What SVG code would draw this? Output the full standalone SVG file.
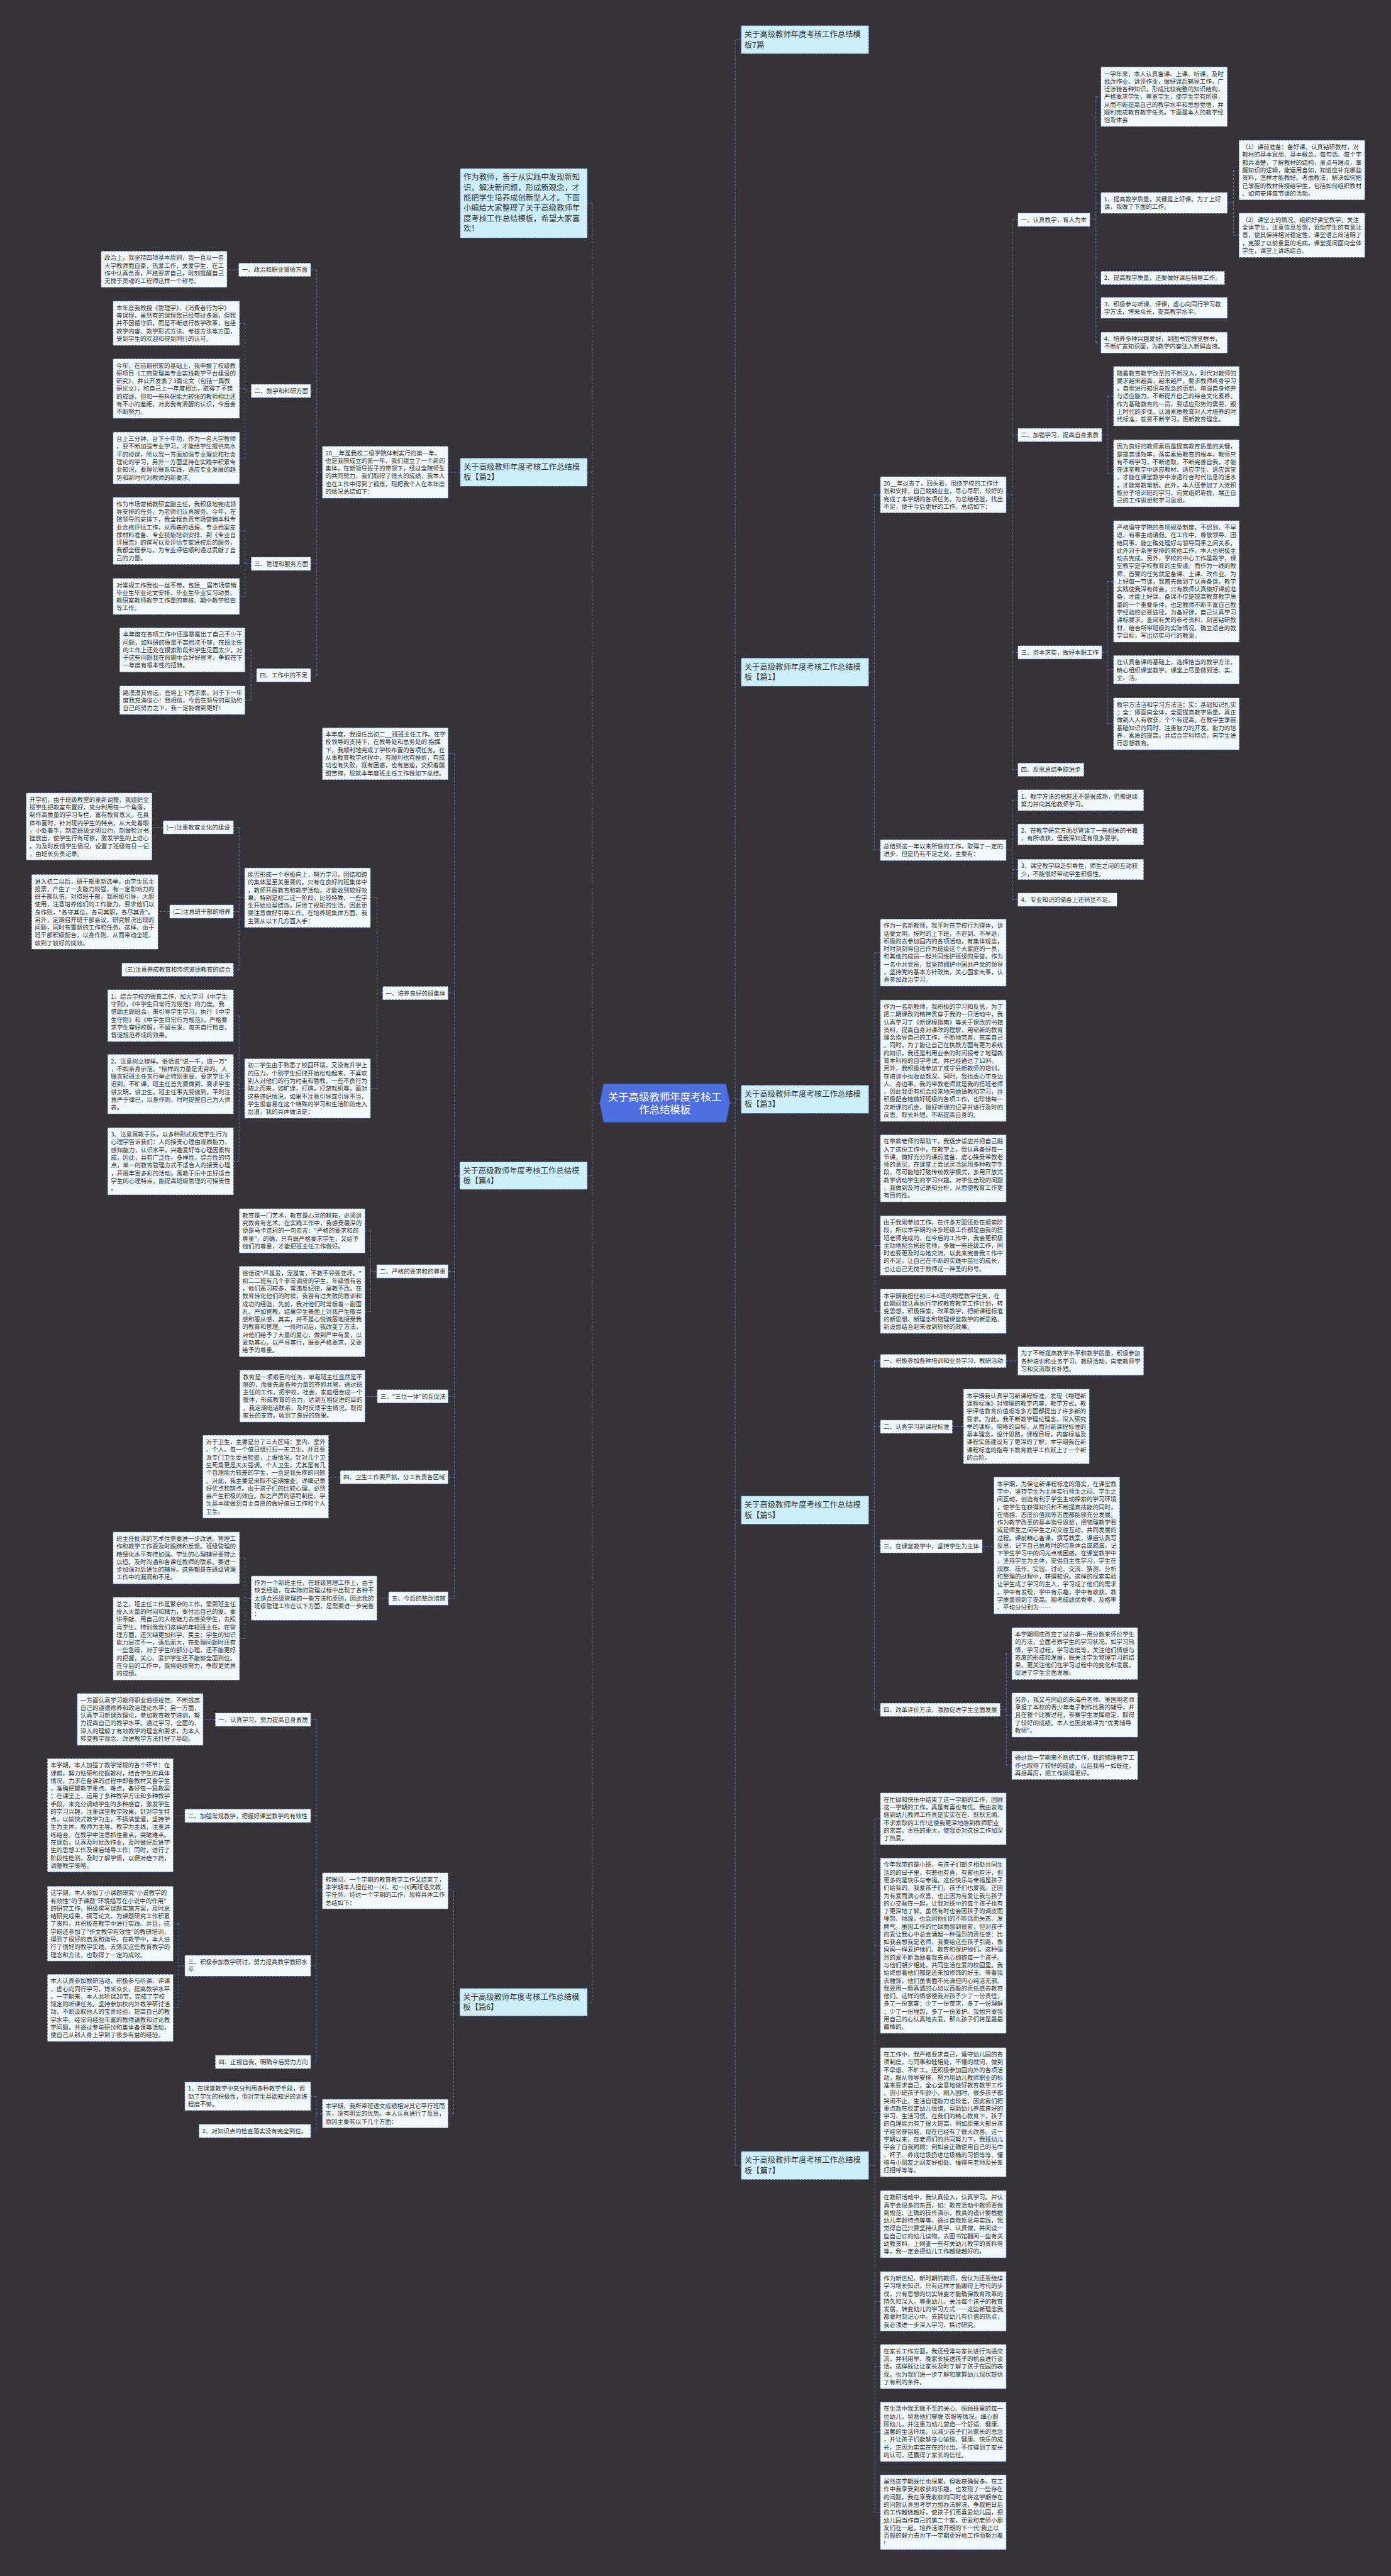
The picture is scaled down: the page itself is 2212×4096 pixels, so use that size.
<svg xmlns="http://www.w3.org/2000/svg" width="2212" height="4096" viewBox="0 0 2212 4096">
<style>
.b{fill:#f1f9fc;stroke:#2f3d78;stroke-width:1;stroke-dasharray:4 2}
.h{fill:#cdeefb;stroke:#3b4f8c;stroke-width:1;stroke-dasharray:4 2}
.t{font-family:"Noto Sans CJK SC","Noto Sans",sans-serif;font-size:11px;fill:#333}
.ht{font-family:"Noto Sans CJK SC","Noto Sans",sans-serif;font-size:14.3px;fill:#333}
.ct{font-family:"Noto Sans CJK SC","Noto Sans",sans-serif;font-size:19px;fill:#fff;text-anchor:middle}
.c{fill:none;stroke:#5b72cf;stroke-width:1.2;stroke-dasharray:4 3}
</style>
<rect width="2212" height="4096" fill="#353337"/>
<g transform="scale(0.86406)">
<g id="connectors" class="c">
<path d="M1343,2030H1353M1353,73V3985M1353,73H1364M1353,1237H1364M1353,2023H1364M1353,2779H1364M1353,3985H1364"/>
<path d="M1104,2030H1090M1090,374V3684.5M1090,374H1081M1090,869H1081M1090,2164H1081M1090,3684.5H1081"/>
<path d="M1599,1237H1609M1609,910.5V1564M1609,910.5H1620M1609,1564H1620"/>
<path d="M1852,910.5H1863M1863,404.5V1416.5M1863,404.5H1873M1863,800.5H1873M1863,1200.5H1873M1863,1416.5H1873"/>
<path d="M2006,404.5H2017M2017,178V630.5M2017,178H2026M2017,373.5H2026M2017,511.5H2026M2017,566.5H2026M2017,630.5H2026"/>
<path d="M2259,373.5H2270M2270,313V433M2270,313H2280M2270,433H2280"/>
<path d="M2028,800.5H2038M2038,729V871M2038,729H2049M2038,871H2049"/>
<path d="M2028,1200.5H2038M2038,1070V1332M2038,1070H2049M2038,1232.5H2049M2038,1332H2049"/>
<path d="M1852,1564H1863M1863,1472.5V1655.5M1863,1472.5H1873M1863,1535.5H1873M1863,1600H1873M1863,1655.5H1873"/>
<path d="M1599,2023H1610M1610,1753V2413M1610,1753H1620M1610,1952H1620M1610,2150H1620M1610,2292H1620M1610,2413H1620"/>
<path d="M1599,2779H1609M1609,2504.5V3146.5M1609,2504.5H1620M1609,2625.5H1620M1609,2845.5H1620M1609,3146.5H1620"/>
<path d="M1852,2504.5H1873M1753,2625.5H1773M1808,2845.5H1829"/>
<path d="M1841,3146.5H1852M1852,3043V3248.5M1852,3043H1862M1852,3156H1862M1852,3248.5H1862"/>
<path d="M1599,3985H1610M1610,3347V4623M1610,3347H1620M1610,3580.5H1620M1610,3887H1620M1610,4093H1620M1610,4235H1620M1610,4355H1620M1610,4475H1620M1610,4623H1620"/>
<path d="M847,869H825M593,869H583M583,496.5V1242.5M583,496.5H572M583,719.5H572M583,1037.5H572M583,1242.5H572"/>
<path d="M439,496.5H418"/>
<path d="M462,719.5H451M451,595V843M451,595H441M451,715H441M451,843H441"/>
<path d="M462,1037.5H451M451,977V1097.5M451,977H441M451,1097.5H441"/>
<path d="M472,1242.5H462M462,1196V1288.5M462,1196H451M462,1288.5H451"/>
<path d="M846,2164H836.5M836.5,1387V2941M836.5,1387H825M836.5,1827.5H825M836.5,2339.5H825M836.5,2569.5H825M836.5,2718.5H825M836.5,2941H825"/>
<path d="M704,1827.5H694M694,1652V2003M694,1652H682M694,2003H682"/>
<path d="M450,1652H440M440,1522.5V1784.5M440,1522.5H430M440,1677.5H430M440,1784.5H430"/>
<path d="M300,1522.5H280M312,1677.5H291"/>
<path d="M450,2003H440M440,1869V2137M440,1869H430M440,1995H430M440,2137H430"/>
<path d="M693,2339.5H682M682,2265V2414M682,2265H672M682,2414H672"/>
<path d="M694,2569.5H672M626,2718.5H605M715,2941H694"/>
<path d="M462,2941H451M451,2867V3015.5M451,2867H441M451,3015.5H441"/>
<path d="M846,3684.5H835M835,3479.5V3889.5M835,3479.5H825M835,3889.5H825"/>
<path d="M593,3479.5H582M582,3164.5V3794.5M582,3164.5H572M582,3341.5H572M582,3617.5H572M582,3794.5H572"/>
<path d="M396,3164.5H374M340,3341.5H319"/>
<path d="M340,3617.5H329M329,3540V3695M329,3540H319M329,3695H319"/>
<path d="M593,3889.5H582M582,3857.5V3921.5M582,3857.5H572M582,3921.5H572"/>
</g>

<g id="center">
<polygon points="1111,1995 1336,1995 1343,2030 1336,2065 1111,2065 1104,2030" fill="#4e6fdf" stroke="#3c5bc8" stroke-width="1"/>
<text class="ct" x="1223.5" y="2025">关于高级教师年度考核工</text>
<text class="ct" x="1223.5" y="2049">作总结模板</text>
</g>

<g id="title7"><rect class="h" x="1364" y="47" width="235" height="52"/><text class="ht" x="1370" y="68.5"><tspan x="1370" dy="0">关于高级教师年度考核工作总结模</tspan><tspan x="1370" dy="18.9">板7篇</tspan></text></g>

<g id="p1"><rect class="h" x="1364" y="1211" width="235" height="52"/><text class="ht" x="1370" y="1232.5"><tspan x="1370" dy="0">关于高级教师年度考核工作总结模</tspan><tspan x="1370" dy="18.9">板【篇1】</tspan></text></g>
<g id="p1-intro"><rect class="b" x="1620" y="877" width="232" height="67"/><text class="t" x="1626" y="893.5"><tspan x="1626" dy="0">20__年过去了。回头看，围绕学校的工作计</tspan><tspan x="1626" dy="14.2">划和安排，自己兢兢业业，尽心尽职，较好的</tspan><tspan x="1626" dy="14.2">完成了本学期的各项任务。为总结经验，找出</tspan><tspan x="1626" dy="14.2">不足，便于今后更好的工作。总结如下：</tspan></text></g>
<g id="p1-sum"><rect class="b" x="1620" y="1545" width="232" height="39"/><text class="t" x="1626" y="1561.5"><tspan x="1626" dy="0">总结到这一年以来所做的工作，取得了一定的</tspan><tspan x="1626" dy="14.2">进步，但是仍有不足之处，主要有：</tspan></text></g>
<g id="p1-s1"><rect class="b" x="1873" y="392" width="133" height="25"/><text class="t" x="1879" y="408.5">一、认真教学，育人为本</text></g>
<g id="p1-s2"><rect class="b" x="1873" y="788" width="155" height="25"/><text class="t" x="1879" y="804.5">二、加强学习，提高自身素质</text></g>
<g id="p1-s3"><rect class="b" x="1873" y="1188" width="155" height="25"/><text class="t" x="1879" y="1204.5">三、务本求实，做好本职工作</text></g>
<g id="p1-s4"><rect class="b" x="1873" y="1404" width="122" height="25"/><text class="t" x="1879" y="1420.5">四、反思总结争取进步</text></g>
<g id="p1-c1"><rect class="b" x="2026" y="123" width="233" height="110"/><text class="t" x="2032" y="139.5"><tspan x="2032" dy="0">一学年来，本人认真备课、上课、听课，及时</tspan><tspan x="2032" dy="14.2">批改作业、讲评作业，做好课后辅导工作，广</tspan><tspan x="2032" dy="14.2">泛涉猎各种知识，形成比较完整的知识结构，</tspan><tspan x="2032" dy="14.2">严格要求学生，尊重学生，使学生学有所得，</tspan><tspan x="2032" dy="14.2">从而不断提高自己的教学水平和思想觉悟，并</tspan><tspan x="2032" dy="14.2">顺利完成教育教学任务。下面是本人的教学经</tspan><tspan x="2032" dy="14.2">验及体会</tspan></text></g>
<g id="p1-c2"><rect class="b" x="2026" y="354" width="233" height="39"/><text class="t" x="2032" y="370.5"><tspan x="2032" dy="0">1、提高教学质量，关键是上好课。为了上好</tspan><tspan x="2032" dy="14.2">课，我做了下面的工作。</tspan></text></g>
<g id="p1-c3"><rect class="b" x="2026" y="499" width="228" height="25"/><text class="t" x="2032" y="515.5">2、提高教学质量，还要做好课后辅导工作。</text></g>
<g id="p1-c4"><rect class="b" x="2026" y="547" width="233" height="39"/><text class="t" x="2032" y="563.5"><tspan x="2032" dy="0">3、积极参与听课、评课，虚心向同行学习教</tspan><tspan x="2032" dy="14.2">学方法，博采众长，提高教学水平。</tspan></text></g>
<g id="p1-c5"><rect class="b" x="2026" y="611" width="233" height="39"/><text class="t" x="2032" y="627.5"><tspan x="2032" dy="0">4、培养多种兴趣爱好，到图书馆博览群书，</tspan><tspan x="2032" dy="14.2">不断扩宽知识面，为教学内容注入新鲜血液。</tspan></text></g>
<g id="p1-d1"><rect class="b" x="2280" y="258" width="232" height="110"/><text class="t" x="2286" y="274.5"><tspan x="2286" dy="0">（1）课前准备：备好课。认真钻研教材，对</tspan><tspan x="2286" dy="14.2">教材的基本思想、基本概念，每句话、每个字</tspan><tspan x="2286" dy="14.2">都弄清楚，了解教材的结构，重点与难点，掌</tspan><tspan x="2286" dy="14.2">握知识的逻辑，能运用自如，知道应补充哪些</tspan><tspan x="2286" dy="14.2">资料，怎样才能教好。考虑教法，解决如何把</tspan><tspan x="2286" dy="14.2">已掌握的教材传授给学生，包括如何组织教材</tspan><tspan x="2286" dy="14.2">、如何安排每节课的活动。</tspan></text></g>
<g id="p1-d2"><rect class="b" x="2280" y="392" width="232" height="82"/><text class="t" x="2286" y="408.5"><tspan x="2286" dy="0">（2）课堂上的情况。组织好课堂教学，关注</tspan><tspan x="2286" dy="14.2">全体学生，注意信息反馈，调动学生的有意注</tspan><tspan x="2286" dy="14.2">意，使其保持相对稳定性，课堂语言简洁明了</tspan><tspan x="2286" dy="14.2">，克服了以前重复的毛病，课堂提问面向全体</tspan><tspan x="2286" dy="14.2">学生，课堂上讲练结合。</tspan></text></g>
<g id="p1-e1"><rect class="b" x="2049" y="674" width="232" height="110"/><text class="t" x="2055" y="690.5"><tspan x="2055" dy="0">随着教育教学改革的不断深入，时代对教师的</tspan><tspan x="2055" dy="14.2">要求越来越高，越来越严。要求教师终身学习</tspan><tspan x="2055" dy="14.2">，自觉进行知识与观念的更新。增强自身修养</tspan><tspan x="2055" dy="14.2">与适应能力，不断提升自己的综合文化素养。</tspan><tspan x="2055" dy="14.2">作为基础教育的一员，要适应形势的需要，跟</tspan><tspan x="2055" dy="14.2">上时代的步伐，认清素质教育对人才培养的时</tspan><tspan x="2055" dy="14.2">代标准，就要不断学习，更新教育理念。</tspan></text></g>
<g id="p1-e2"><rect class="b" x="2049" y="809" width="232" height="124"/><text class="t" x="2055" y="825.5"><tspan x="2055" dy="0">因为良好的教师素质是提高教育质量的关键，</tspan><tspan x="2055" dy="14.2">是提高课效率，落实素质教育的根本。教师只</tspan><tspan x="2055" dy="14.2">有不断学习，不断进取，不断完善自我，才能</tspan><tspan x="2055" dy="14.2">在课堂教学中适应教材、适应学生、适应课堂</tspan><tspan x="2055" dy="14.2">，才能在课堂教学中渗透符合时代信息的活水</tspan><tspan x="2055" dy="14.2">，才能常教常新。此外，本人还参加了入党积</tspan><tspan x="2055" dy="14.2">极分子培训班的学习，向党组织靠拢，端正自</tspan><tspan x="2055" dy="14.2">己的工作思想和学习思想。</tspan></text></g>
<g id="p1-f1"><rect class="b" x="2049" y="958" width="232" height="224"/><text class="t" x="2055" y="974.5"><tspan x="2055" dy="0">严格遵守学院的各项规章制度，不迟到、不早</tspan><tspan x="2055" dy="14.2">退、有事主动请假。在工作中，尊敬领导、团</tspan><tspan x="2055" dy="14.2">结同事，能正确处理好与领导同事之间关系，</tspan><tspan x="2055" dy="14.2">此外对于系里安排的其他工作，本人也积极主</tspan><tspan x="2055" dy="14.2">动去完成。另外，学校的中心工作是教学，课</tspan><tspan x="2055" dy="14.2">堂教学是学校教育的主渠道。而作为一线的教</tspan><tspan x="2055" dy="14.2">师，首要的任务就是备课、上课、改作业。为</tspan><tspan x="2055" dy="14.2">上好每一节课，我首先做到了认真备课，教学</tspan><tspan x="2055" dy="14.2">实践使我深有体会，只有教师认真做好课前准</tspan><tspan x="2055" dy="14.2">备，才能上好课，备课不仅是提高教育教学质</tspan><tspan x="2055" dy="14.2">量的一个重要条件，也是教师不断丰富自己教</tspan><tspan x="2055" dy="14.2">学经验的必要途径。为备好课，自己认真学习</tspan><tspan x="2055" dy="14.2">课标要求，查阅有关的参考资料，刻苦钻研教</tspan><tspan x="2055" dy="14.2">材，结合所带班级的实际情况，确立适合的教</tspan><tspan x="2055" dy="14.2">学目标，写出切实可行的教案。</tspan></text></g>
<g id="p1-f2"><rect class="b" x="2049" y="1206" width="232" height="53"/><text class="t" x="2055" y="1222.5"><tspan x="2055" dy="0">在认真备课的基础上，选择恰当的教学方法，</tspan><tspan x="2055" dy="14.2">精心组织课堂教学。课堂上尽量做到活、实、</tspan><tspan x="2055" dy="14.2">全、活。</tspan></text></g>
<g id="p1-f3"><rect class="b" x="2049" y="1284" width="232" height="96"/><text class="t" x="2055" y="1300.5"><tspan x="2055" dy="0">教学方法活和学习方法活；实：基础知识扎实</tspan><tspan x="2055" dy="14.2">；全：即面向全体，全面提高教学质量。真正</tspan><tspan x="2055" dy="14.2">做到人人有收获，个个有提高。在教学生掌握</tspan><tspan x="2055" dy="14.2">基础知识的同时，注重智力的开发，能力的培</tspan><tspan x="2055" dy="14.2">养，素质的提高。并结合学科特点，向学生进</tspan><tspan x="2055" dy="14.2">行思想教育。</tspan></text></g>
<g id="p1-g1"><rect class="b" x="1873" y="1453" width="232" height="39"/><text class="t" x="1879" y="1469.5"><tspan x="1879" dy="0">1、教学方法的把握还不是很成熟，仍需继续</tspan><tspan x="1879" dy="14.2">努力并向其他教师学习。</tspan></text></g>
<g id="p1-g2"><rect class="b" x="1873" y="1516" width="232" height="39"/><text class="t" x="1879" y="1532.5"><tspan x="1879" dy="0">2、在教学研究方面尽管读了一些相关的书籍</tspan><tspan x="1879" dy="14.2">，有所收获，但我深知还有很多要学。</tspan></text></g>
<g id="p1-g3"><rect class="b" x="1873" y="1581" width="232" height="38"/><text class="t" x="1879" y="1597.5"><tspan x="1879" dy="0">3、课堂教学缺乏引导性，师生之间的互动较</tspan><tspan x="1879" dy="14.2">少，不能很好带动学生积极性。</tspan></text></g>
<g id="p1-g4"><rect class="b" x="1873" y="1643" width="183" height="25"/><text class="t" x="1879" y="1659.5">4、专业知识的储备上还稍显不足。</text></g>

<g id="p3"><rect class="h" x="1364" y="1997" width="235" height="52"/><text class="ht" x="1370" y="2018.5"><tspan x="1370" dy="0">关于高级教师年度考核工作总结模</tspan><tspan x="1370" dy="18.9">板【篇3】</tspan></text></g>
<g id="p3-1"><rect class="b" x="1620" y="1691" width="232" height="124"/><text class="t" x="1626" y="1707.5"><tspan x="1626" dy="0">作为一名新教师，我平时在学校行为得体，讲</tspan><tspan x="1626" dy="14.2">话要文明，按时的上下班，不迟到、不早退，</tspan><tspan x="1626" dy="14.2">积极的去参加园内的各项活动，有集体观念，</tspan><tspan x="1626" dy="14.2">时时刻刻将自己作为班级这个大家庭的一员，</tspan><tspan x="1626" dy="14.2">和其他的成员一起共同维护班级的荣誉。作为</tspan><tspan x="1626" dy="14.2">一名中共党员，我坚持拥护中国共产党的领导</tspan><tspan x="1626" dy="14.2">，坚持党的基本方针政策，关心国家大事，认</tspan><tspan x="1626" dy="14.2">真参加政治学习。</tspan></text></g>
<g id="p3-2"><rect class="b" x="1620" y="1840" width="232" height="224"/><text class="t" x="1626" y="1856.5"><tspan x="1626" dy="0">作为一名新教师，我积极的学习和反思，为了</tspan><tspan x="1626" dy="14.2">把二期课改的精神贯穿于我的一日活动中，我</tspan><tspan x="1626" dy="14.2">认真学习了《新课程指南》等关于课改的书籍</tspan><tspan x="1626" dy="14.2">资料，提高自身对课改的理解，用崭新的教育</tspan><tspan x="1626" dy="14.2">理念指导自己的工作，不断地完善、充实自己</tspan><tspan x="1626" dy="14.2">。同时，为了能让自己在执教方面有更为系统</tspan><tspan x="1626" dy="14.2">的知识，我还是利用业余的时间报考了地理教</tspan><tspan x="1626" dy="14.2">育本科段的自学考试，并已经通过了12科。</tspan><tspan x="1626" dy="14.2">另外，我积极地参加了咸宁县新教师的培训，</tspan><tspan x="1626" dy="14.2">在培训中也收益颇深。同时，我也虚心学身边</tspan><tspan x="1626" dy="14.2">人、身边事，我的带教老师就是我的搭班老师</tspan><tspan x="1626" dy="14.2">，因此我更有机会经常地向她请教和学习，并</tspan><tspan x="1626" dy="14.2">积极配合她做好班级的各项工作，也珍惜每一</tspan><tspan x="1626" dy="14.2">次听课的机会，做好听课的记录并进行及时的</tspan><tspan x="1626" dy="14.2">反思，取长补短，不断提高自身的。</tspan></text></g>
<g id="p3-3"><rect class="b" x="1620" y="2088" width="232" height="124"/><text class="t" x="1626" y="2104.5"><tspan x="1626" dy="0">在带教老师的帮助下，我逐步适应并把自己融</tspan><tspan x="1626" dy="14.2">入了这份工作中，在教学上，我认真备好每一</tspan><tspan x="1626" dy="14.2">节课，做好充分的课前准备，虚心接受带教老</tspan><tspan x="1626" dy="14.2">师的意见，在课堂上尝试灵活运用多种教学手</tspan><tspan x="1626" dy="14.2">段，尽可能地打破传统教学模式，多用开放式</tspan><tspan x="1626" dy="14.2">教学调动学生的学习兴趣。对学生出现的问题</tspan><tspan x="1626" dy="14.2">，我做到及时记录和分析，从而使教育工作更</tspan><tspan x="1626" dy="14.2">有目的性。</tspan></text></g>
<g id="p3-4"><rect class="b" x="1620" y="2237" width="232" height="110"/><text class="t" x="1626" y="2253.5"><tspan x="1626" dy="0">由于我刚参加工作，在许多方面还处在摸索阶</tspan><tspan x="1626" dy="14.2">段，所以本学期的许多班级工作都是由我的搭</tspan><tspan x="1626" dy="14.2">班老师完成的，在今后的工作中，我会更积极</tspan><tspan x="1626" dy="14.2">主动地配合搭班老师，多做一些班级工作，同</tspan><tspan x="1626" dy="14.2">时也要更及时与她交流，以此来完善我工作中</tspan><tspan x="1626" dy="14.2">的不足，让自己在不断的实践中茁壮的成长，</tspan><tspan x="1626" dy="14.2">也让自己无愧于教师这一神圣的称号。</tspan></text></g>
<g id="p3-5"><rect class="b" x="1620" y="2372" width="232" height="82"/><text class="t" x="1626" y="2388.5"><tspan x="1626" dy="0">本学期我担任初三4-6班的物理教学任务，在</tspan><tspan x="1626" dy="14.2">此期间我认真执行学校教育教学工作计划，转</tspan><tspan x="1626" dy="14.2">变思想，积极探索，改革教学，把新课程标准</tspan><tspan x="1626" dy="14.2">的新思想、新理念和物理课堂教学的新思路、</tspan><tspan x="1626" dy="14.2">新设想结合起来收到较好的效果。</tspan></text></g>

<g id="p5"><rect class="h" x="1364" y="2753" width="235" height="52"/><text class="ht" x="1370" y="2774.5"><tspan x="1370" dy="0">关于高级教师年度考核工作总结模</tspan><tspan x="1370" dy="18.9">板【篇5】</tspan></text></g>
<g id="p5-s1"><rect class="b" x="1620" y="2492" width="232" height="25"/><text class="t" x="1626" y="2508.5">一、积极参加各种培训和业务学习、教研活动</text></g>
<g id="p5-c1"><rect class="b" x="1873" y="2478" width="232" height="53"/><text class="t" x="1879" y="2494.5"><tspan x="1879" dy="0">为了不断提高教学水平和教学质量，积极参加</tspan><tspan x="1879" dy="14.2">各种培训和业务学习、教研活动，向老教师学</tspan><tspan x="1879" dy="14.2">习和交流取长补短。</tspan></text></g>
<g id="p5-s2"><rect class="b" x="1620" y="2613" width="133" height="25"/><text class="t" x="1626" y="2629.5">二、认真学习新课程标准</text></g>
<g id="p5-c2"><rect class="b" x="1773" y="2556" width="232" height="138"/><text class="t" x="1779" y="2572.5"><tspan x="1779" dy="0">本学期我认真学习新课程标准，发现《物理新</tspan><tspan x="1779" dy="14.2">课程标准》对物理的教学内容，教学方式，教</tspan><tspan x="1779" dy="14.2">学评估教育价值观等多方面都提出了许多新的</tspan><tspan x="1779" dy="14.2">要求。为此，我不断教学理论理念，深入研究</tspan><tspan x="1779" dy="14.2">举的课标，明晰的目标，从而对新课程标准的</tspan><tspan x="1779" dy="14.2">基本理念，设计思路，课程目标，内容标准及</tspan><tspan x="1779" dy="14.2">课程实施建议有了更深的了解，本学期我在新</tspan><tspan x="1779" dy="14.2">课程标准的指导下教育教学工作跃上了一个新</tspan><tspan x="1779" dy="14.2">的台阶。</tspan></text></g>
<g id="p5-s3"><rect class="b" x="1620" y="2833" width="188" height="25"/><text class="t" x="1626" y="2849.5">三、在课堂教学中，坚持学生为主体</text></g>
<g id="p5-c3"><rect class="b" x="1829" y="2718" width="232" height="252"/><text class="t" x="1835" y="2734.5"><tspan x="1835" dy="0">本学期，为保证新课程标准的落实，在课堂教</tspan><tspan x="1835" dy="14.2">学中，坚持学生为主体实行师生之间、学生之</tspan><tspan x="1835" dy="14.2">间互动，创造有利于学生主动探索的学习环境</tspan><tspan x="1835" dy="14.2">，使学生在获得知识和不断提高技能的同时，</tspan><tspan x="1835" dy="14.2">在情感、态度价值观等方面都能够充分发展。</tspan><tspan x="1835" dy="14.2">作为教学改革的基本指导思想，把物理教学看</tspan><tspan x="1835" dy="14.2">成是师生之间学生之间交往互动，共同发展的</tspan><tspan x="1835" dy="14.2">过程。课前精心备课，撰写教案，课后认真写</tspan><tspan x="1835" dy="14.2">反思，记下自己执教时的切身体会或疏漏，记</tspan><tspan x="1835" dy="14.2">下学生学习中的闪光点或困惑。在课堂教学中</tspan><tspan x="1835" dy="14.2">，坚持学生为主体，提倡自主性学习，学生在</tspan><tspan x="1835" dy="14.2">观察、操作、实验、讨论、交流、猜测、分析</tspan><tspan x="1835" dy="14.2">和整理的过程中，获得知识。这样的探索实验</tspan><tspan x="1835" dy="14.2">让学生成了学习的主人，学习成了他们的需求</tspan><tspan x="1835" dy="14.2">，学中有发现，学中有乐趣，学中有收获，教</tspan><tspan x="1835" dy="14.2">学质量得到了提高。期考成绩优秀率、及格率</tspan><tspan x="1835" dy="14.2">、平均分分别为……</tspan></text></g>
<g id="p5-s4"><rect class="b" x="1620" y="3134" width="221" height="25"/><text class="t" x="1626" y="3150.5">四、改革评价方法，激励促进学生全面发展</text></g>
<g id="p5-j1"><rect class="b" x="1862" y="2995" width="232" height="96"/><text class="t" x="1868" y="3011.5"><tspan x="1868" dy="0">本学期彻底改变了过去单一用分数来评价学生</tspan><tspan x="1868" dy="14.2">的方法，全面考察学生的学习状况，如学习热</tspan><tspan x="1868" dy="14.2">情，学习过程，学习态度等，关注他们情感与</tspan><tspan x="1868" dy="14.2">态度的形成和发展，既关注学生物理学习的结</tspan><tspan x="1868" dy="14.2">果，更关注他们在学习过程中的变化和发展，</tspan><tspan x="1868" dy="14.2">促进了学生全面发展。</tspan></text></g>
<g id="p5-j2"><rect class="b" x="1862" y="3115" width="232" height="82"/><text class="t" x="1868" y="3131.5"><tspan x="1868" dy="0">另外，我又与同组的朱海舟老师、吴国明老师</tspan><tspan x="1868" dy="14.2">承担了本校的青少年电子制作比赛的辅导，并</tspan><tspan x="1868" dy="14.2">且在整个比赛过程，参赛学生发挥稳定，取得</tspan><tspan x="1868" dy="14.2">了较好的成绩。本人也因此被评为"优秀辅导</tspan><tspan x="1868" dy="14.2">教师"。</tspan></text></g>
<g id="p5-j3"><rect class="b" x="1862" y="3222" width="232" height="53"/><text class="t" x="1868" y="3238.5"><tspan x="1868" dy="0">通过我一学期来不断的工作，我的物理教学工</tspan><tspan x="1868" dy="14.2">作也取得了较好的成绩，以后我将一如既往，</tspan><tspan x="1868" dy="14.2">再接再厉，把工作搞得更好。</tspan></text></g>

<g id="p7"><rect class="h" x="1364" y="3959" width="235" height="52"/><text class="ht" x="1370" y="3980.5"><tspan x="1370" dy="0">关于高级教师年度考核工作总结模</tspan><tspan x="1370" dy="18.9">板【篇7】</tspan></text></g>
<g id="p7-1"><rect class="b" x="1620" y="3299" width="232" height="96"/><text class="t" x="1626" y="3315.5"><tspan x="1626" dy="0">在忙碌和快乐中结束了这一学期的工作，回顾</tspan><tspan x="1626" dy="14.2">这一学期的工作，真是有喜也有忧。我由衷地</tspan><tspan x="1626" dy="14.2">感到幼儿教师工作真是实实在在、默默无闻、</tspan><tspan x="1626" dy="14.2">不求索取的工作!这使我更深地感到教师职业</tspan><tspan x="1626" dy="14.2">的崇高，责任的重大，使我更对这份工作加深</tspan><tspan x="1626" dy="14.2">了热爱。</tspan></text></g>
<g id="p7-2"><rect class="b" x="1620" y="3419" width="232" height="323"/><text class="t" x="1626" y="3435.5"><tspan x="1626" dy="0">今年我带的是小班，与孩子们朝夕相处共同生</tspan><tspan x="1626" dy="14.2">活的的日子里，有悲也有喜，有累也有汗，但</tspan><tspan x="1626" dy="14.2">更多的是快乐与幸福。这份快乐与幸福是孩子</tspan><tspan x="1626" dy="14.2">们给我的，我爱孩子们，孩子们也爱我。正因</tspan><tspan x="1626" dy="14.2">为有爱而满心欢喜，也正因为有爱让我与孩子</tspan><tspan x="1626" dy="14.2">的心交融在一起，让我对班中的每个孩子也有</tspan><tspan x="1626" dy="14.2">了更深地了解。虽然有时也会因孩子的调皮而</tspan><tspan x="1626" dy="14.2">埋怨、烦躁，也会因他们的不听话而失态、发</tspan><tspan x="1626" dy="14.2">脾气。虽因工作的忙碌而感到很累，但对孩子</tspan><tspan x="1626" dy="14.2">的爱让我心中总会涌起一种强烈的责任感：比</tspan><tspan x="1626" dy="14.2">如我会想我是老师，我要给这些孩子引路，像</tspan><tspan x="1626" dy="14.2">妈妈一样爱护他们、教育和保护他们。这种强</tspan><tspan x="1626" dy="14.2">烈的爱不断激励着我去真心拥抱每一个孩子。</tspan><tspan x="1626" dy="14.2">与他们朝夕相处，共同生活在爱的校园里。我</tspan><tspan x="1626" dy="14.2">始终想着他们都是还未加修饰的好玉、等着我</tspan><tspan x="1626" dy="14.2">去雕饰，他们虽表面不光滑但内心纯洁无邪。</tspan><tspan x="1626" dy="14.2">我要用一颗真诚的心加以百般的责任感去教育</tspan><tspan x="1626" dy="14.2">他们。这样的情感使我对孩子少了一份责怪，</tspan><tspan x="1626" dy="14.2">多了一份宽容；少了一份苛求，多了一份理解</tspan><tspan x="1626" dy="14.2">；少了一份埋怨，多了一份爱护。我想只要我</tspan><tspan x="1626" dy="14.2">用自己的心认真地去爱，那么孩子们将是最最</tspan><tspan x="1626" dy="14.2">最棒的。</tspan></text></g>
<g id="p7-3"><rect class="b" x="1620" y="3768" width="232" height="238"/><text class="t" x="1626" y="3784.5"><tspan x="1626" dy="0">在工作中，我严格要求自己，遵守幼儿园的各</tspan><tspan x="1626" dy="14.2">项制度，与同事和睦相处，不懂的就问，做到</tspan><tspan x="1626" dy="14.2">不早退、不旷工。还积极参加园内外的各项活</tspan><tspan x="1626" dy="14.2">动，服从领导安排，努力用幼儿教师职业的标</tspan><tspan x="1626" dy="14.2">准来要求自己，全心全意地做好教育教学工作</tspan><tspan x="1626" dy="14.2">。因小班孩子年龄小，刚入园时，很多孩子都</tspan><tspan x="1626" dy="14.2">哭闹不止，生活自理能力也较差，因此我们把</tspan><tspan x="1626" dy="14.2">重点放在稳定幼儿情绪，帮助幼儿养成良好的</tspan><tspan x="1626" dy="14.2">学习、生活习惯。在我们的精心教育下，孩子</tspan><tspan x="1626" dy="14.2">的自理能力有了很大提高，例如原来大部分孩</tspan><tspan x="1626" dy="14.2">子经常穿错鞋，现在已经有了很大改善。这一</tspan><tspan x="1626" dy="14.2">学期以来，在老师们的共同努力下，我班幼儿</tspan><tspan x="1626" dy="14.2">学会了自我照顾：例如会正确使用自己的毛巾</tspan><tspan x="1626" dy="14.2">、杯子、养成垃圾扔进垃圾桶的习惯等等、懂</tspan><tspan x="1626" dy="14.2">得与小朋友之间友好相处、懂得与老师及长辈</tspan><tspan x="1626" dy="14.2">打招呼等等。</tspan></text></g>
<g id="p7-4"><rect class="b" x="1620" y="4031" width="232" height="124"/><text class="t" x="1626" y="4047.5"><tspan x="1626" dy="0">在教研活动中，我认真投入，认真学习。并认</tspan><tspan x="1626" dy="14.2">真学会很多的东西，如：教育活动中教师要做</tspan><tspan x="1626" dy="14.2">到规范、正确的操作演示，教具的设计要根据</tspan><tspan x="1626" dy="14.2">幼儿年龄特点等等。通过自我反思与实践，我</tspan><tspan x="1626" dy="14.2">觉得自己只要坚持认真学、认真做，并阅读一</tspan><tspan x="1626" dy="14.2">些自己订的幼儿读物，去图书馆翻阅一些有关</tspan><tspan x="1626" dy="14.2">幼教资料，上网查一些有关幼儿教学的资料等</tspan><tspan x="1626" dy="14.2">等，我一定会把幼儿工作越做越好的。</tspan></text></g>
<g id="p7-5"><rect class="b" x="1620" y="4180" width="232" height="110"/><text class="t" x="1626" y="4196.5"><tspan x="1626" dy="0">作为新世纪、新时期的教师，我认为还要继续</tspan><tspan x="1626" dy="14.2">学习增长知识，只有这样才能跟得上时代的步</tspan><tspan x="1626" dy="14.2">伐，只有思想的切实转变才能确保教育改革的</tspan><tspan x="1626" dy="14.2">持久和深入。尊重幼儿，关注每个孩子的教育</tspan><tspan x="1626" dy="14.2">发展，转变幼儿的学习方式……这些新理念我</tspan><tspan x="1626" dy="14.2">都要时刻记心中。去捕捉幼儿有价值的热点，</tspan><tspan x="1626" dy="14.2">我必须进一步深入学习、探讨研究。</tspan></text></g>
<g id="p7-6"><rect class="b" x="1620" y="4314" width="232" height="82"/><text class="t" x="1626" y="4330.5"><tspan x="1626" dy="0">在家长工作方面，我还经常与家长进行沟通交</tspan><tspan x="1626" dy="14.2">流，并利用早、晚家长接送孩子的机会进行谈</tspan><tspan x="1626" dy="14.2">话。这样既让让家长及时了解了孩子在园的表</tspan><tspan x="1626" dy="14.2">现，也为我们进一步了解和掌握幼儿现状提供</tspan><tspan x="1626" dy="14.2">了有利的条件。</tspan></text></g>
<g id="p7-7"><rect class="b" x="1620" y="4420" width="232" height="110"/><text class="t" x="1626" y="4436.5"><tspan x="1626" dy="0">在生活中我无微不至的关心、照顾班里的每一</tspan><tspan x="1626" dy="14.2">位幼儿，留意他们穿脱 衣服等情况，细心照</tspan><tspan x="1626" dy="14.2">顾幼儿，并注重为幼儿营造一个舒适、健康、</tspan><tspan x="1626" dy="14.2">温馨的生活环境，以减少孩子们对家长的思念</tspan><tspan x="1626" dy="14.2">，并让孩子们能够身心愉悦、健康、快乐的成</tspan><tspan x="1626" dy="14.2">长。正因为实实在在的付出，不仅得到了家长</tspan><tspan x="1626" dy="14.2">的认可，还赢得了家长的信任。</tspan></text></g>
<g id="p7-8"><rect class="b" x="1620" y="4554" width="232" height="138"/><text class="t" x="1626" y="4570.5"><tspan x="1626" dy="0">虽然这学期既忙也很累，但收获确很多。在工</tspan><tspan x="1626" dy="14.2">作中我享受到收获的乐趣，也发现了一些存在</tspan><tspan x="1626" dy="14.2">的问题。我在享受收获的同时也将这学期存在</tspan><tspan x="1626" dy="14.2">的问题认真思考尽力想办法解决，争取把日后</tspan><tspan x="1626" dy="14.2">的工作越做越好，使孩子们更喜爱幼儿园，把</tspan><tspan x="1626" dy="14.2">幼儿园当作自己的第二个家，更爱和老师小朋</tspan><tspan x="1626" dy="14.2">友们在一起，培养活泼开朗的下一代!我正以</tspan><tspan x="1626" dy="14.2">百般的毅力去为下一学期更好地工作而努力着</tspan><tspan x="1626" dy="14.2">!</tspan></text></g>

<g id="intro"><rect class="h" x="847" y="310" width="234" height="128"/><text class="ht" x="853" y="331.5"><tspan x="853" dy="0">作为教师，善于从实践中发现新知</tspan><tspan x="853" dy="18.9">识，解决新问题，形成新观念，才</tspan><tspan x="853" dy="18.9">能把学生培养成创新型人才。下面</tspan><tspan x="853" dy="18.9">小编给大家整理了关于高级教师年</tspan><tspan x="853" dy="18.9">度考核工作总结模板，希望大家喜</tspan><tspan x="853" dy="18.9">欢！</tspan></text></g>

<g id="p2"><rect class="h" x="847" y="843" width="234" height="52"/><text class="ht" x="853" y="864.5"><tspan x="853" dy="0">关于高级教师年度考核工作总结模</tspan><tspan x="853" dy="18.9">板【篇2】</tspan></text></g>
<g id="p2-intro"><rect class="b" x="593" y="821" width="232" height="96"/><text class="t" x="599" y="837.5"><tspan x="599" dy="0">20__年是我校二级学院体制实行的第一年，</tspan><tspan x="599" dy="14.2">也是我院成立的第一年，我们建立了一个新的</tspan><tspan x="599" dy="14.2">集体，在新领导班子的带领下，经过全院师生</tspan><tspan x="599" dy="14.2">的共同努力，我们取得了很大的成绩，我本人</tspan><tspan x="599" dy="14.2">也在工作中得到了锻炼，现把我个人在本年度</tspan><tspan x="599" dy="14.2">的情况总结如下：</tspan></text></g>
<g id="p2-s1"><rect class="b" x="439" y="484" width="133" height="25"/><text class="t" x="445" y="500.5">一、政治和职业道德方面</text></g>
<g id="p2-c1"><rect class="b" x="186" y="462" width="232" height="67"/><text class="t" x="192" y="478.5"><tspan x="192" dy="0">政治上，我坚持四项基本原则，我一直以一名</tspan><tspan x="192" dy="14.2">大学教师而自豪，热爱工作，关爱学生，在工</tspan><tspan x="192" dy="14.2">作中认真负责，严格要求自己，时刻提醒自己</tspan><tspan x="192" dy="14.2">无愧于灵魂的工程师这样一个称号。</tspan></text></g>
<g id="p2-s2"><rect class="b" x="462" y="707" width="110" height="25"/><text class="t" x="468" y="723.5">二、教学和科研方面</text></g>
<g id="p2-o1"><rect class="b" x="208" y="554" width="233" height="82"/><text class="t" x="214" y="570.5"><tspan x="214" dy="0">本年度我教授《管理学》、《消费者行为学》</tspan><tspan x="214" dy="14.2">等课程，虽然有的课程我已经带过多遍，但我</tspan><tspan x="214" dy="14.2">并不因循守旧，而是不断进行教学改革，包括</tspan><tspan x="214" dy="14.2">教学内容、教学形式方法、考核方法等方面，</tspan><tspan x="214" dy="14.2">受到学生的欢迎和得到同行的认可。</tspan></text></g>
<g id="p2-o2"><rect class="b" x="208" y="660" width="233" height="110"/><text class="t" x="214" y="676.5"><tspan x="214" dy="0">今年，在前期积累的基础上，我申报了校级教</tspan><tspan x="214" dy="14.2">研项目《工商管理类专业实践教学平台建设的</tspan><tspan x="214" dy="14.2">研究》，并公开发表了3篇论文（包括一篇教</tspan><tspan x="214" dy="14.2">研论文），和自己上一年度相比，取得了不错</tspan><tspan x="214" dy="14.2">的成绩，但和一些科研能力较强的教师相比还</tspan><tspan x="214" dy="14.2">有不小的差距，对此我有清醒的认识，今后会</tspan><tspan x="214" dy="14.2">不断努力。</tspan></text></g>
<g id="p2-o3"><rect class="b" x="208" y="795" width="233" height="96"/><text class="t" x="214" y="811.5"><tspan x="214" dy="0">台上三分钟，台下十年功，作为一名大学教师</tspan><tspan x="214" dy="14.2">，要不断加强专业学习，才能给学生提供高水</tspan><tspan x="214" dy="14.2">平的授课，所以我一方面加强专业理论和社会</tspan><tspan x="214" dy="14.2">理论的学习，另外一方面坚持在实践中积累专</tspan><tspan x="214" dy="14.2">业知识，要理论联系实践，适应专业发展的趋</tspan><tspan x="214" dy="14.2">势和新时代对教师的新要求。</tspan></text></g>
<g id="p2-s3"><rect class="b" x="462" y="1025" width="110" height="25"/><text class="t" x="468" y="1041.5">三、管理和服务方面</text></g>
<g id="p2-p1"><rect class="b" x="208" y="915" width="233" height="124"/><text class="t" x="214" y="931.5"><tspan x="214" dy="0">作为市场营销教研室副主任，我积极地完成领</tspan><tspan x="214" dy="14.2">导安排的任务，为老师们认真服务。今年，在</tspan><tspan x="214" dy="14.2">院领导的安排下，我全程负责市场营销本科专</tspan><tspan x="214" dy="14.2">业合格评估工作，从两表的填报、专业档案支</tspan><tspan x="214" dy="14.2">撑材料准备、专业技能培训安排、到《专业自</tspan><tspan x="214" dy="14.2">评报告》的撰写以及评估专家进校后的服务，</tspan><tspan x="214" dy="14.2">我都全程参与，为专业评估顺利通过贡献了自</tspan><tspan x="214" dy="14.2">己的力量。</tspan></text></g>
<g id="p2-p2"><rect class="b" x="208" y="1064" width="233" height="67"/><text class="t" x="214" y="1080.5"><tspan x="214" dy="0">对常规工作我也一丝不苟，包括__届市场营销</tspan><tspan x="214" dy="14.2">毕业生毕业论文安排、毕业生毕业实习动员、</tspan><tspan x="214" dy="14.2">教研室教师教学工作量的审核、期中教学检查</tspan><tspan x="214" dy="14.2">等工作。</tspan></text></g>
<g id="p2-s4"><rect class="b" x="472" y="1230" width="100" height="25"/><text class="t" x="478" y="1246.5">四、工作中的不足</text></g>
<g id="p2-q1"><rect class="b" x="220" y="1155" width="231" height="82"/><text class="t" x="226" y="1171.5"><tspan x="226" dy="0">本年度在各项工作中还是暴露出了自己不少干</tspan><tspan x="226" dy="14.2">问题，如科研的质量不高档次不够，在班主任</tspan><tspan x="226" dy="14.2">的工作上还处在摸索阶段和学生见面太少。对</tspan><tspan x="226" dy="14.2">于这些问题我在假期中会好好思考，争取在下</tspan><tspan x="226" dy="14.2">一年度有根本性的扭转。</tspan></text></g>
<g id="p2-q2"><rect class="b" x="220" y="1262" width="231" height="53"/><text class="t" x="226" y="1278.5"><tspan x="226" dy="0">路漫漫其修远，吾将上下而求索，对于下一年</tspan><tspan x="226" dy="14.2">度我充满信心！我相信，今后在领导的帮助和</tspan><tspan x="226" dy="14.2">自己的努力之下，我一定能做到更好！</tspan></text></g>

<g id="p4"><rect class="h" x="846" y="2138" width="235" height="51"/><text class="ht" x="852" y="2159.5"><tspan x="852" dy="0">关于高级教师年度考核工作总结模</tspan><tspan x="852" dy="18.9">板【篇4】</tspan></text></g>
<g id="p4-intro"><rect class="b" x="593" y="1339" width="232" height="96"/><text class="t" x="599" y="1355.5"><tspan x="599" dy="0">本年度，我担任出初二__班班主任工作。在学</tspan><tspan x="599" dy="14.2">校领导的支持下，在教导处和总务处的.指挥</tspan><tspan x="599" dy="14.2">下，我顺利地完成了学校布置的各项任务。在</tspan><tspan x="599" dy="14.2">从事教育教学过程中，有顺利也有挫折，有成</tspan><tspan x="599" dy="14.2">功也有失败，既有困惑，也有启迪，交织着酸</tspan><tspan x="599" dy="14.2">甜苦辣，现就本年度班主任工作做如下总结。</tspan></text></g>
<g id="p4-s1"><rect class="b" x="704" y="1815" width="121" height="25"/><text class="t" x="710" y="1831.5">一、培养良好的班集体</text></g>
<g id="p4-s2"><rect class="b" x="693" y="2327" width="132" height="25"/><text class="t" x="699" y="2343.5">二、严格的要求和的尊重</text></g>
<g id="p4-s3"><rect class="b" x="694" y="2557" width="131" height="25"/><text class="t" x="700" y="2573.5">三、"三位一体"的互促法</text></g>
<g id="p4-s4"><rect class="b" x="626" y="2706" width="199" height="25"/><text class="t" x="632" y="2722.5">四、卫生工作要严抓，分工负责各区域</text></g>
<g id="p4-s5"><rect class="b" x="715" y="2929" width="110" height="25"/><text class="t" x="721" y="2945.5">五、今后的整改措施</text></g>
<g id="p4-a1"><rect class="b" x="450" y="1597" width="232" height="110"/><text class="t" x="456" y="1613.5"><tspan x="456" dy="0">能否形成一个积极向上，努力学习，团结和睦</tspan><tspan x="456" dy="14.2">的集体是至关重要的。只有在良好的班集体中</tspan><tspan x="456" dy="14.2">，教师开展教育和教学活动，才能收到较好效</tspan><tspan x="456" dy="14.2">果。特别是初二这一阶段，比较特殊，一些学</tspan><tspan x="456" dy="14.2">生开始拉帮结派，厌倦了规矩的生活，因此更</tspan><tspan x="456" dy="14.2">要注意做好引导工作。在培养班集体方面，我</tspan><tspan x="456" dy="14.2">主要从以下几方面入手：</tspan></text></g>
<g id="p4-a2"><rect class="b" x="450" y="1948" width="232" height="110"/><text class="t" x="456" y="1964.5"><tspan x="456" dy="0">初二学生由于熟悉了校园环境，又没有升学上</tspan><tspan x="456" dy="14.2">的压力，个别学生纪律开始松动起来，不喜欢</tspan><tspan x="456" dy="14.2">别人对他们的行为约束和管教，一些不良行为</tspan><tspan x="456" dy="14.2">随之而来，如旷课，打牌，打游戏机等，面对</tspan><tspan x="456" dy="14.2">这些违纪情况，如果不注意引导或引导不当，</tspan><tspan x="456" dy="14.2">学生很容易在这个特殊的学习和生活阶段走入</tspan><tspan x="456" dy="14.2">岔道。我的具体做法是：</tspan></text></g>
<g id="p4-t1"><rect class="b" x="300" y="1510" width="130" height="25"/><text class="t" x="306" y="1526.5">(一)注重教室文化的建设</text></g>
<g id="p4-t1c"><rect class="b" x="48" y="1459" width="232" height="124"/><text class="t" x="54" y="1475.5"><tspan x="54" dy="0">开学初，由于班级教室的重新调整，我组织全</tspan><tspan x="54" dy="14.2">班学生把教室布置好，充分利用每一个角落，</tspan><tspan x="54" dy="14.2">制作高质量的学习专栏，富有教育意义。在具</tspan><tspan x="54" dy="14.2">体布置时，针对班内学生的特点，从大处着眼</tspan><tspan x="54" dy="14.2">，小处着手，制定班级文明公约，制做检讨书</tspan><tspan x="54" dy="14.2">挂放出，使学生行有可依，激发学生的上进心</tspan><tspan x="54" dy="14.2">。为及时反馈学生情况，设置了班级每日一记</tspan><tspan x="54" dy="14.2">，由班长负责记录。</tspan></text></g>
<g id="p4-t2"><rect class="b" x="312" y="1665" width="118" height="25"/><text class="t" x="318" y="1681.5">(二)注意班干部的培养</text></g>
<g id="p4-t2c"><rect class="b" x="58" y="1609" width="233" height="138"/><text class="t" x="64" y="1625.5"><tspan x="64" dy="0">进入初二以后，班干部重新选举，由学生民主</tspan><tspan x="64" dy="14.2">投票，产生了一支能力较强，有一定影响力的</tspan><tspan x="64" dy="14.2">班干部队伍。对待班干部，我积极引导，大胆</tspan><tspan x="64" dy="14.2">使用，注意培养他们的工作能力，要求他们以</tspan><tspan x="64" dy="14.2">身作则，"各守其位，各司其职，各尽其责"。</tspan><tspan x="64" dy="14.2">另外，定期召开班干部会议，研究解决出现的</tspan><tspan x="64" dy="14.2">问题，同时布置新的工作和任务。这样，由于</tspan><tspan x="64" dy="14.2">班干部积级配合，以身作则，从而带动全班，</tspan><tspan x="64" dy="14.2">收到了较好的成效。</tspan></text></g>
<g id="p4-t3"><rect class="b" x="224" y="1772" width="206" height="25"/><text class="t" x="230" y="1788.5">(三)注意养成教育和传统道德教育的结合</text></g>
<g id="p4-u1"><rect class="b" x="198" y="1821" width="232" height="96"/><text class="t" x="204" y="1837.5"><tspan x="204" dy="0">1、结合学校的德育工作，加大学习《中学生</tspan><tspan x="204" dy="14.2">守则》，《中学生日常行为规范》的力度。我</tspan><tspan x="204" dy="14.2">借助主题班会，来引导学生学习，执行《中学</tspan><tspan x="204" dy="14.2">生守则》和《中学生日常行为规范》，严格要</tspan><tspan x="204" dy="14.2">求学生穿好校服，不留长发，每天自行检查，</tspan><tspan x="204" dy="14.2">督促规范养成的效果。</tspan></text></g>
<g id="p4-u2"><rect class="b" x="198" y="1940" width="232" height="110"/><text class="t" x="204" y="1956.5"><tspan x="204" dy="0">2、注意树立榜样。俗话说"说一千，道一万"</tspan><tspan x="204" dy="14.2">，不如亲身示范。"榜样的力量是无穷的。人</tspan><tspan x="204" dy="14.2">微言轻班主任言行举止特别重要，要求学生不</tspan><tspan x="204" dy="14.2">迟到，不旷课，班主任首先要做到，要求学生</tspan><tspan x="204" dy="14.2">讲文明，讲卫生，班主任事先要做到，平时注</tspan><tspan x="204" dy="14.2">意严于律已，以身作则，时时提醒自己为人师</tspan><tspan x="204" dy="14.2">表。</tspan></text></g>
<g id="p4-u3"><rect class="b" x="198" y="2075" width="232" height="124"/><text class="t" x="204" y="2091.5"><tspan x="204" dy="0">3、注意寓教于乐，以多种形式规范学生行为</tspan><tspan x="204" dy="14.2">心理学告诉我们：人的接受心理由观察能力，</tspan><tspan x="204" dy="14.2">感知能力，认识水平，兴趣爱好等心理因素构</tspan><tspan x="204" dy="14.2">成，因此，具有广泛性，多样性，综合性的特</tspan><tspan x="204" dy="14.2">点，单一的教育管理方式不适合人的接受心理</tspan><tspan x="204" dy="14.2">，开展丰富多彩的活动，寓教于乐中正好适合</tspan><tspan x="204" dy="14.2">学生的心理特点，能提高班级管理的可接受性</tspan><tspan x="204" dy="14.2">。</tspan></text></g>
<g id="p4-v1"><rect class="b" x="440" y="2224" width="232" height="82"/><text class="t" x="446" y="2240.5"><tspan x="446" dy="0">教育是一门艺术，教育是心灵的耕耘，必须讲</tspan><tspan x="446" dy="14.2">究教育有艺术。在实践工作中，我感受最深的</tspan><tspan x="446" dy="14.2">便是马卡连珂的一句名言："严格的要求和的</tspan><tspan x="446" dy="14.2">尊重"。的确，只有既严格要求学生，又给予</tspan><tspan x="446" dy="14.2">他们的尊重，才能把班主任工作做好。</tspan></text></g>
<g id="p4-v2"><rect class="b" x="440" y="2330" width="232" height="167"/><text class="t" x="446" y="2346.5"><tspan x="446" dy="0">俗话说"严是爱，宠是害，不教不导要变坏。"</tspan><tspan x="446" dy="14.2">初二二班有几个非常调皮的学生，年级很有名</tspan><tspan x="446" dy="14.2">，他们恶习较多，常违反纪律，屡教不改。在</tspan><tspan x="446" dy="14.2">教育转化他们的时候，我曾有过失败的教训和</tspan><tspan x="446" dy="14.2">成功的经验，先前，我对他们时常板着一副面</tspan><tspan x="446" dy="14.2">孔，严加管教，结果学生表面上对我产生敬畏</tspan><tspan x="446" dy="14.2">感和服从感，其实，并不是心悦诚服地接受我</tspan><tspan x="446" dy="14.2">的教育和管理。一段时间后，我改变了方法，</tspan><tspan x="446" dy="14.2">对他们给予了大量的爱心，做到严中有爱，以</tspan><tspan x="446" dy="14.2">爱动其心，以严导其行，既要严格要求，又要</tspan><tspan x="446" dy="14.2">给予的尊重。</tspan></text></g>
<g id="p4-w1"><rect class="b" x="441" y="2521" width="231" height="96"/><text class="t" x="447" y="2537.5"><tspan x="447" dy="0">教育是一项艰巨的任务，单靠班主任显然是不</tspan><tspan x="447" dy="14.2">够的，而要先靠各种力量的齐抓共管。通过班</tspan><tspan x="447" dy="14.2">主任的工作，把学校，社会，家庭组合成一个</tspan><tspan x="447" dy="14.2">整体，形成教育的合力，达到互相促进的目的</tspan><tspan x="447" dy="14.2">。我定期电话联系，及时反馈学生情况，取得</tspan><tspan x="447" dy="14.2">家长的支持，收到了良好的效果。</tspan></text></g>
<g id="p4-w2"><rect class="b" x="373" y="2641" width="232" height="153"/><text class="t" x="379" y="2657.5"><tspan x="379" dy="0">对于卫生，主要是分了三大区域：室内、室外</tspan><tspan x="379" dy="14.2">、个人。每一个值日组打扫一天卫生。并且要</tspan><tspan x="379" dy="14.2">派专门卫生委员检查，上报情况。针对几个卫</tspan><tspan x="379" dy="14.2">生死角更是天天强调。个人卫生，尤其是有几</tspan><tspan x="379" dy="14.2">个自理能力较差的学生，一直是我头疼的问题</tspan><tspan x="379" dy="14.2">。对此，我主要是采取不定期抽查，详细记录</tspan><tspan x="379" dy="14.2">好优点和缺点。由于孩子们的比较心理，必然</tspan><tspan x="379" dy="14.2">会产生积极的效应。加之严厉的惩罚制度，学</tspan><tspan x="379" dy="14.2">生基本能做到自主自愿的做好值日工作和个人</tspan><tspan x="379" dy="14.2">卫生。</tspan></text></g>
<g id="p4-x1"><rect class="b" x="462" y="2900" width="232" height="82"/><text class="t" x="468" y="2916.5"><tspan x="468" dy="0">作为一个新班主任，在班级管理工作上，由于</tspan><tspan x="468" dy="14.2">缺乏经验，在实际的管理过程中出现了各种不</tspan><tspan x="468" dy="14.2">太适合班级管理的一些方法和原则，因此我的</tspan><tspan x="468" dy="14.2">班级管理工作在以下方面，是需要进一步完善</tspan><tspan x="468" dy="14.2">：</tspan></text></g>
<g id="p4-y1"><rect class="b" x="208" y="2819" width="233" height="96"/><text class="t" x="214" y="2835.5"><tspan x="214" dy="0">班主任批评的艺术性需要进一步改进。管理工</tspan><tspan x="214" dy="14.2">作和教学工作要及时跟踪和反馈。班级管理的</tspan><tspan x="214" dy="14.2">精细化水平有待加强。学生的心理辅导要持之</tspan><tspan x="214" dy="14.2">以恒。及时沟通和各课任教师的联系。要进一</tspan><tspan x="214" dy="14.2">步加强对后进生的辅导。这些都是在班级管理</tspan><tspan x="214" dy="14.2">工作中的漏洞和不足。</tspan></text></g>
<g id="p4-y2"><rect class="b" x="208" y="2939" width="233" height="153"/><text class="t" x="214" y="2955.5"><tspan x="214" dy="0">总之，班主任工作是繁杂的工作，需要班主任</tspan><tspan x="214" dy="14.2">投入大量的时间和精力，要付出自己的爱、要</tspan><tspan x="214" dy="14.2">讲奉献、用自己的人格魅力去感染学生，去照</tspan><tspan x="214" dy="14.2">亮学生。特别像我们这样的年轻班主任。在管</tspan><tspan x="214" dy="14.2">理方面，还欠缺更加科学、民主；学生的知识</tspan><tspan x="214" dy="14.2">能力层次不一，落后面大，在处理问题时还有</tspan><tspan x="214" dy="14.2">一些急躁，对于学生的部分心理，还不能更好</tspan><tspan x="214" dy="14.2">的把握，关心、爱护学生还不能够全面到位。</tspan><tspan x="214" dy="14.2">在今后的工作中，我将继续努力，争取更优异</tspan><tspan x="214" dy="14.2">的成绩。</tspan></text></g>

<g id="p6"><rect class="h" x="846" y="3659" width="235" height="51"/><text class="ht" x="852" y="3680.5"><tspan x="852" dy="0">关于高级教师年度考核工作总结模</tspan><tspan x="852" dy="18.9">板【篇6】</tspan></text></g>
<g id="p6-intro"><rect class="b" x="593" y="3446" width="232" height="67"/><text class="t" x="599" y="3462.5"><tspan x="599" dy="0">转眼间，一个学期的教育教学工作又结束了，</tspan><tspan x="599" dy="14.2">本学期本人担任初一(x)、初一(x)两班语文教</tspan><tspan x="599" dy="14.2">学任务，经过一个学期的工作，现将具体工作</tspan><tspan x="599" dy="14.2">总结如下：</tspan></text></g>
<g id="p6-refl"><rect class="b" x="593" y="3863" width="232" height="53"/><text class="t" x="599" y="3879.5"><tspan x="599" dy="0">本学期，我所带班语文成绩相对其它平行班而</tspan><tspan x="599" dy="14.2">言，没有明显的优势。本人认真进行了反思，</tspan><tspan x="599" dy="14.2">原因主要有以下几个方面：</tspan></text></g>
<g id="p6-s1"><rect class="b" x="396" y="3152" width="176" height="25"/><text class="t" x="402" y="3168.5">一、认真学习，努力提高自身素质</text></g>
<g id="p6-c1"><rect class="b" x="142" y="3116" width="232" height="96"/><text class="t" x="148" y="3132.5"><tspan x="148" dy="0">一方面认真学习教师职业道德规范、不断提高</tspan><tspan x="148" dy="14.2">自己的道德修养和政治理论水平；另一方面，</tspan><tspan x="148" dy="14.2">认真学习新课改理论，参加教育教学培训，努</tspan><tspan x="148" dy="14.2">力提高自己的教学水平。通过学习，全面的、</tspan><tspan x="148" dy="14.2">深入的理解了有效教学的理念和要求，为本人</tspan><tspan x="148" dy="14.2">转变教学观念、改进教学方法打好了基础。</tspan></text></g>
<g id="p6-s2"><rect class="b" x="340" y="3329" width="232" height="25"/><text class="t" x="346" y="3345.5">二、加强常规教学，把握好课堂教学的有效性</text></g>
<g id="p6-c2"><rect class="b" x="87" y="3236" width="232" height="209"/><text class="t" x="93" y="3252.5"><tspan x="93" dy="0">本学期，本人加强了教学常规的各个环节：在</tspan><tspan x="93" dy="14.2">课前，努力钻研和挖掘教材，结合学生的具体</tspan><tspan x="93" dy="14.2">情况，力求在备课的过程中即备教材又备学生</tspan><tspan x="93" dy="14.2">，准确把握教学重点、难点，备好每一篇教案</tspan><tspan x="93" dy="14.2">；在课堂上，运用了多种教学方法和多种教学</tspan><tspan x="93" dy="14.2">手段，来充分调动学生的多种感官，激发学生</tspan><tspan x="93" dy="14.2">的学习兴趣，注重课堂教学效果，针对学生特</tspan><tspan x="93" dy="14.2">点，以愉快式教学为主，不搞满堂灌，坚持学</tspan><tspan x="93" dy="14.2">生为主体，教师为主导、教学为主线，注重讲</tspan><tspan x="93" dy="14.2">练结合。在教学中注意抓住重点，突破难点。</tspan><tspan x="93" dy="14.2">在课后，认真及时批改作业，及时做好后进学</tspan><tspan x="93" dy="14.2">生的思想工作及课后辅导工作；同时，进行了</tspan><tspan x="93" dy="14.2">阶段性检测，及时了解学情，以便对症下药，</tspan><tspan x="93" dy="14.2">调整教学策略。</tspan></text></g>
<g id="p6-s3"><rect class="b" x="340" y="3598" width="232" height="39"/><text class="t" x="346" y="3614.5"><tspan x="346" dy="0">三、积极参加教学研讨，努力提高教学教研水</tspan><tspan x="346" dy="14.2">平</tspan></text></g>
<g id="p6-d1"><rect class="b" x="87" y="3471" width="232" height="138"/><text class="t" x="93" y="3487.5"><tspan x="93" dy="0">这学期，本人参加了小课题研究"小说教学的</tspan><tspan x="93" dy="14.2">有效性"的子课题"环境描写在小说中的作用"</tspan><tspan x="93" dy="14.2">的研究工作，积极撰写课题实施方案，及时总</tspan><tspan x="93" dy="14.2">结研究成果，撰写论文，为课题研究工作积累</tspan><tspan x="93" dy="14.2">了资料，并积极在教学中进行实践。并且，这</tspan><tspan x="93" dy="14.2">学期还参加了"作文教学有效性"的教研培训，</tspan><tspan x="93" dy="14.2">得到了很好的启发和指导。在教学中，本人进</tspan><tspan x="93" dy="14.2">行了很好的教学实践，去落实这些教育教学的</tspan><tspan x="93" dy="14.2">理念和方法，也取得了一定的成效。</tspan></text></g>
<g id="p6-d2"><rect class="b" x="87" y="3633" width="232" height="124"/><text class="t" x="93" y="3649.5"><tspan x="93" dy="0">本人认真参加教研活动，积极参与听课、评课</tspan><tspan x="93" dy="14.2">，虚心向同行学习，博采众长，提高教学水平</tspan><tspan x="93" dy="14.2">。一学期来，本人共听课20节，完成了学校</tspan><tspan x="93" dy="14.2">规定的听课任务。坚持参加校内外教学研讨活</tspan><tspan x="93" dy="14.2">动，不断汲取他人的宝贵经验，提高自己的教</tspan><tspan x="93" dy="14.2">学水平。经常向经验丰富的教师请教和讨论教</tspan><tspan x="93" dy="14.2">学问题。并通过参与研讨和集体备课等活动，</tspan><tspan x="93" dy="14.2">使自己从别人身上学到了很多有益的经验。</tspan></text></g>
<g id="p6-s4"><rect class="b" x="396" y="3782" width="176" height="25"/><text class="t" x="402" y="3798.5">四、正视自我，明确今后努力方向</text></g>
<g id="p6-r1"><rect class="b" x="340" y="3831" width="232" height="53"/><text class="t" x="346" y="3847.5"><tspan x="346" dy="0">1、在课堂教学中充分利用多种教学手段，调</tspan><tspan x="346" dy="14.2">动了学生的积极性，但对学生基础知识的训练</tspan><tspan x="346" dy="14.2">程度不够。</tspan></text></g>
<g id="p6-r2"><rect class="b" x="366" y="3909" width="206" height="25"/><text class="t" x="372" y="3925.5">2、对知识点的检查落实没有完全到位。</text></g>
</g>
</svg>
